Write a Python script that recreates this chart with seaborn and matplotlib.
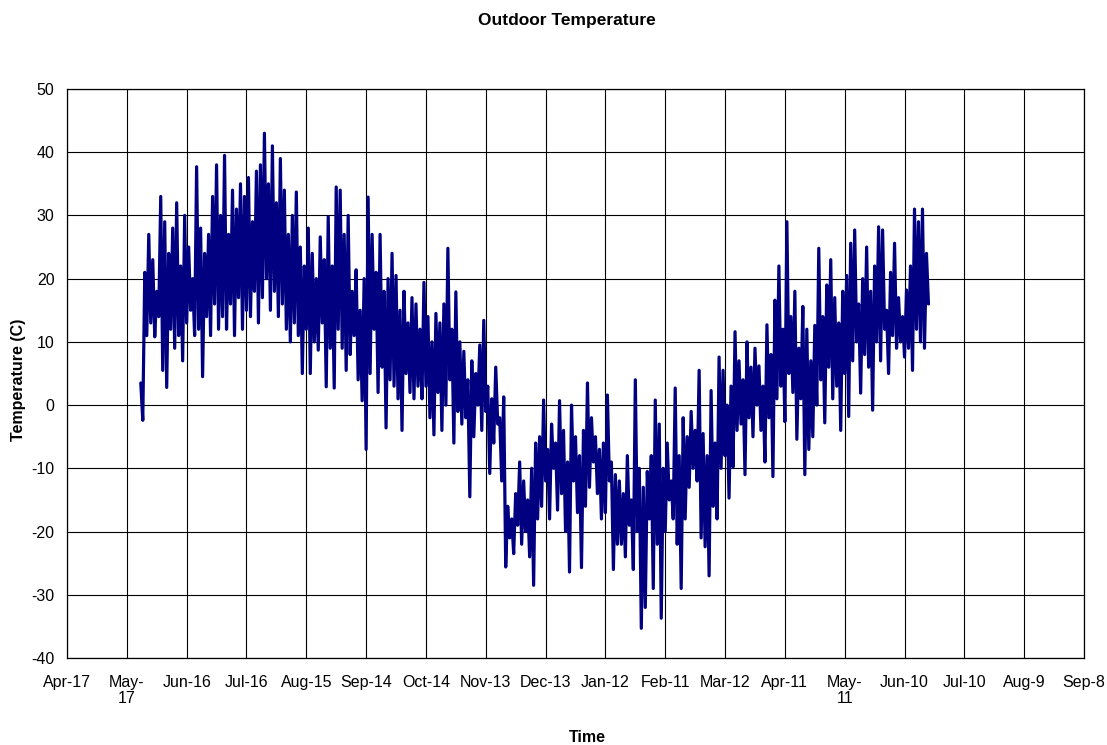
import pandas as pd
import matplotlib
matplotlib.use('Agg')
import matplotlib.pyplot as plt
import seaborn as sns

# Daily swings: alternating highs and lows (deg C), 2-day cycles
highs = [
    3.5, 21, 27, 23, 18, 33, 29, 24, 28, 32,
    22, 30, 25, 20, 37.7, 28, 24, 27, 33, 38,
    30, 39.5, 27, 34, 31, 35, 33, 36, 29, 37,
    38, 43, 35, 41, 32, 39, 34, 27, 30, 33.7,
    25, 22, 28, 24, 20, 26.6, 23, 29.8, 22, 34.5,
    34, 27, 30, 18, 21.4, 15, 20, 32.9, 27, 21,
    27, 18, 20, 24, 20.5, 15, 18, 13, 17, 16,
    12, 19.4, 14, 10, 14.5, 13, 16, 24.8, 12, 17.9,
    10, 8.5, 4, 7, 5, 9.5, 13.4, 3, 1, 6,
    -2, 1.3, -16, -18, -14, -9, -12, -15, -10, -6,
    -5, 0.8, -7, -3, -6, 0.7, -4, -9, 0, -5,
    -8, -4, 3.5, -2, -5, -7, -6, 1.6, -9, -11,
    -12, -14, -8, -15, 4, -10, -13, -10.5, -8, 0.8,
    -3, -10, -6, -12, 2.7, -8, -2, -5, -1, -4,
    5.5, -4.5, -8, 2.3, -6, 7.6, 5.5, 0, 3, 11.6,
    7, 4, 10, 6, 9, 6.2, 3, 12.7, 8, 16.6,
    22, 12, 29, 14, 18, 9, 15.6, 12, 7, 12.6,
    24.8, 14, 19, 23, 17, 13, 18, 20.5, 25.6, 27.7,
    16, 20, 25, 18, 22, 28.2, 27.7, 15, 21, 25.6,
    17, 14, 18.2, 22, 31, 29, 31, 24,
]
lows = [
    -2.4, 11, 13, 10.8, 14, 5.5, 2.8, 12, 9, 11,
    7, 13, 15, 11, 12, 4.5, 14, 11, 16, 12,
    14, 12, 16, 11, 17, 12, 15, 14, 18, 13,
    17, 20, 15, 18, 14, 16, 12, 10, 13, 11,
    5, 12, 5, 10, 8.7, 13, 2.9, 9, 2.7, 12,
    9, 5.5, 8, 11, 4, 0.7, -7, 5, 12, 2,
    6, -3.6, 4, 3, 1, -4, 5, 2, 1, 3,
    1, 3, -2, -4.7, 2, -4, 0, 4, -6, -1,
    -3, -2, -14.5, -5, 0, -4, -1, -10.8, -6, -3,
    -12, -25.6, -21, -23.5, -19, -22, -20, -24, -28.5, -18,
    -16, -12, -18, -10, -16.6, -14, -20, -26.4, -12, -17,
    -25.7, -16, -13, -9, -14, -18, -17, -12, -26, -22,
    -22, -24, -19, -26, -20, -35.3, -32, -18, -29, -22,
    -33.7, -20, -15, -18, -22, -29, -18, -13, -10, -12,
    -21, -22.4, -27, -16, -18, -10, -8, -14.7, -9.8, -4,
    -3, -11, -2, -5, 0, -4, -9, -2, -11.3, 1,
    3, -2.6, 5, 2, -5.4, 1, -11, -7, -5, 0,
    4, -2.8, 6, 1, 3, -4, 5, -1.8, 7, 10,
    1.9, 8, 6, -0.8, 10, 7, 12, 5, 11, 9,
    10, 7.6, 9, 5.5, 12, 10, 9, 16,
]

start_date = '2003-05-24'
tick_start = '2003-04-17'
tick_labels = ["Apr-17", "May-\n17", "Jun-16", "Jul-16", "Aug-15", "Sep-14",
               "Oct-14", "Nov-13", "Dec-13", "Jan-12", "Feb-11", "Mar-12",
               "Apr-11", "May-\n11", "Jun-10", "Jul-10", "Aug-9", "Sep-8"]
y_ticks = list(range(-40, 51, 10))

temps = []
for h, l in zip(highs, lows):
    temps += [h, l]
df = pd.DataFrame({'time': pd.date_range(start_date, periods=len(temps), freq='D'),
                   'temp': temps})

sns.set_style('white')
plt.rcParams['font.family'] = ['Liberation Sans', 'DejaVu Sans']
plt.rcParams['text.color'] = 'black'
plt.rcParams['xtick.color'] = 'black'
plt.rcParams['ytick.color'] = 'black'

fig = plt.figure(figsize=(11.07, 7.45), dpi=100)
ax = fig.add_axes([67 / 1107, 1 - 658 / 745, (1084 - 67) / 1107, (658 - 89) / 745])

sns.lineplot(data=df, x='time', y='temp', ax=ax, color='#000080', linewidth=2.3)

xticks = pd.date_range(tick_start, periods=len(tick_labels), freq='30D')
ax.set_xlim(xticks[0], xticks[-1])
ax.set_xticks(xticks)
ax.set_xticklabels(tick_labels, fontsize=11.5, linespacing=1.1)
ax.set_ylim(-40, 50)
ax.set_yticks(y_ticks)
ax.set_yticklabels([str(v) for v in y_ticks], fontsize=11.5)

ax.grid(True, color='black', linewidth=0.8)
ax.set_axisbelow(True)
for s in ax.spines.values():
    s.set_color('black')
    s.set_linewidth(0.9)
ax.tick_params(axis='x', direction='out', length=5, width=0.8, color='black', pad=7)
ax.tick_params(axis='y', direction='out', length=4, width=0.8, color='black', pad=5)

ax.set_xlabel('')
ax.set_ylabel('')
fig.text(587 / 1107, 1 - 737 / 745, 'Time', ha='center', va='center',
         fontsize=11.5, fontweight='bold')
fig.text(18 / 1107, 1 - 380 / 745, 'Temperature (C)', ha='center', va='center',
         rotation=90, fontsize=11.5, fontweight='bold')
fig.text(567 / 1107, 1 - 20 / 745, 'Outdoor Temperature', ha='center', va='center',
         fontsize=12.5, fontweight='bold')

fig.savefig('out.png', dpi=100)
